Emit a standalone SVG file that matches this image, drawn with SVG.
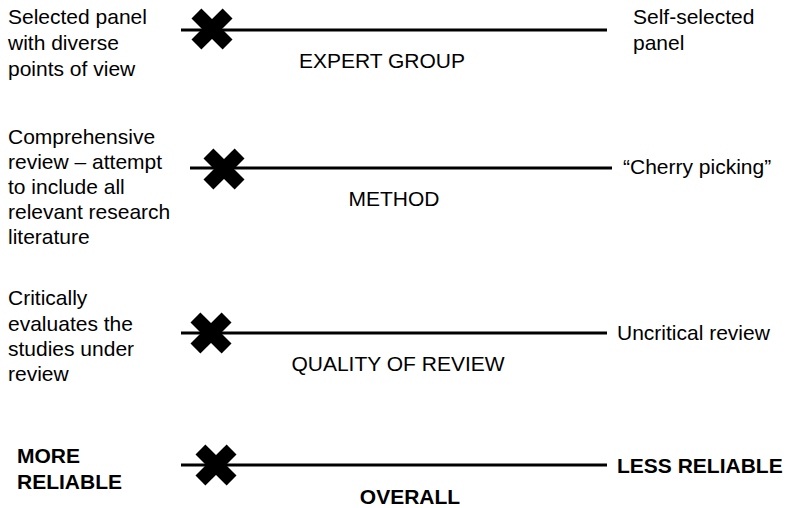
<svg xmlns="http://www.w3.org/2000/svg" width="789" height="508" viewBox="0 0 789 508">
<style>
text{font-family:"Liberation Sans",Arial,sans-serif;font-size:21px;fill:#000}
.b{font-weight:bold}
.m{text-anchor:middle}
.ln{stroke:#000;stroke-width:3;fill:none}
</style>
<defs>
<g id="x"><rect x="-22" y="-7" width="44" height="14" transform="rotate(45)"/><rect x="-22" y="-7" width="44" height="14" transform="rotate(-45)"/></g>
</defs>
<g id="connectors">
<line class="ln" x1="181" y1="30" x2="607" y2="30"/>
<line class="ln" x1="190" y1="168" x2="612" y2="168"/>
<line class="ln" x1="181" y1="333" x2="607" y2="333"/>
<line class="ln" x1="181" y1="465" x2="607" y2="465"/>
</g>
<g id="expert">
<text x="8" y="24">Selected panel</text>
<text x="8" y="50">with diverse</text>
<text x="8" y="76">points of view</text>
<use href="#x" x="212" y="29"/>
<text x="633" y="24">Self-selected</text>
<text x="633" y="50">panel</text>
<text class="m" x="382" y="68">EXPERT GROUP</text>
</g>
<g id="method">
<text x="8" y="144">Comprehensive</text>
<text x="8" y="169">review  – attempt</text>
<text x="8" y="194">to include all</text>
<text x="8" y="219">relevant research</text>
<text x="8" y="244">literature</text>
<use href="#x" x="224" y="169"/>
<text x="623" y="174">“Cherry picking”</text>
<text class="m" x="394" y="206">METHOD</text>
</g>
<g id="quality">
<text x="8" y="305">Critically</text>
<text x="8" y="331">evaluates the</text>
<text x="8" y="356">studies under</text>
<text x="8" y="381">review</text>
<use href="#x" x="211" y="333"/>
<text x="617" y="340">Uncritical review</text>
<text class="m" x="398" y="371">QUALITY OF REVIEW</text>
</g>
<g id="overall">
<text class="b" x="17" y="463">MORE</text>
<text class="b" x="17" y="489">RELIABLE</text>
<use href="#x" x="216" y="465"/>
<text class="b" x="617" y="473">LESS RELIABLE</text>
<text class="b m" x="410" y="504">OVERALL</text>
</g>
</svg>
